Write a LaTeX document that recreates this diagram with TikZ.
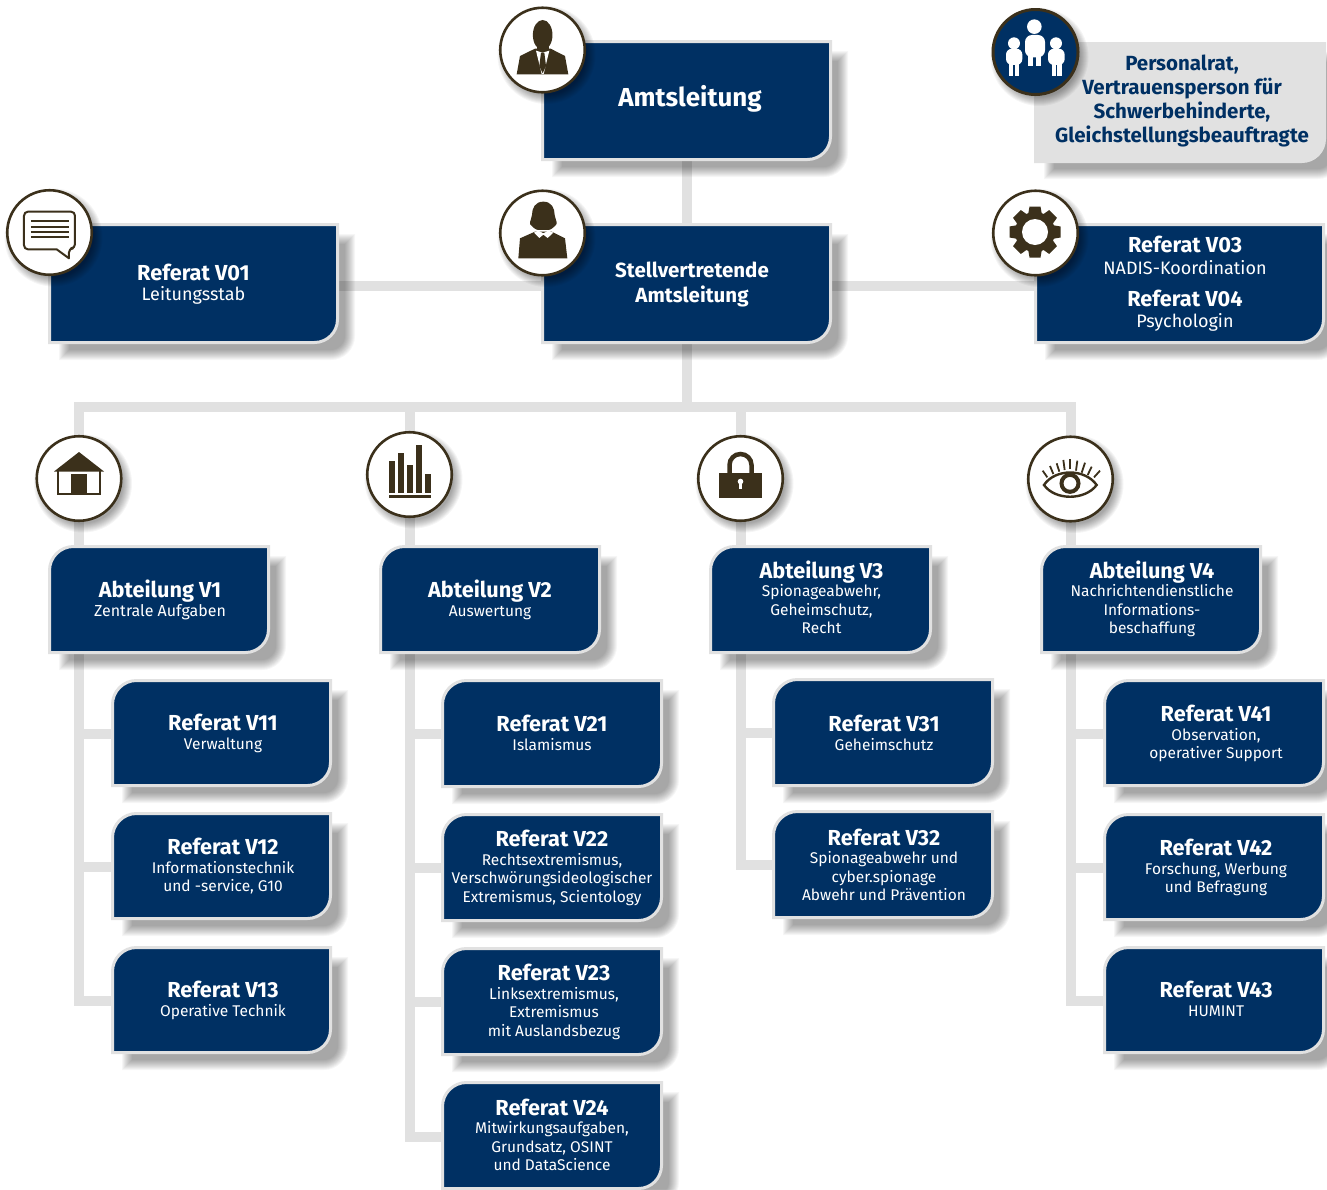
\documentclass[tikz,border=0pt]{standalone}
\usepackage{fontspec}
\setmainfont{Fira Sans}
\usetikzlibrary{calc}
\pgfdeclarelayer{lines}
\pgfsetlayers{lines,main}
\definecolor{navy}{HTML}{003063}
\definecolor{rulegray}{HTML}{E1E1E1}
\definecolor{umber}{HTML}{3B301B}
\newcommand\hd[1]{{\fontsize{21.7}{20}\selectfont\bfseries #1}}
\newcommand\hdb[1]{{\fontsize{20.5}{20}\selectfont\bfseries #1}}
\newcommand\lgsub[1]{{\fontsize{18}{18.5}\selectfont #1}}
\newcommand\shapepath[6]{(#1,{#2+#5}) .. controls (#1,{#2+0.45*#5}) and ({#1+0.45*#5},#2) .. ({#1+#5},#2) -- (#3,#2) -- (#3,{#4-#6}) .. controls (#3,{#4-0.45*#6}) and ({#3-0.45*#6},#4) .. ({#3-#6},#4) -- (#1,#4) -- cycle}
% shadow of a box: nested translucent fills
\newcommand\softshadow[6]{%
  \foreach \k in {0,1,...,10}{%
    \fill[black,opacity=0.036] \shapepath{#1+10+\k}{#2+10+\k}{#3+16-\k}{#4+16-\k}{max(#5-\k,0)}{max(#6-\k,0)};%
  }}
% [#1 text dy], #2 name, #3-#6 outer box, #7 top-left radius, #8 text x, #9 text
\newcommand\orgbox[9][0]{%
  \softshadow{#3}{#4}{#5}{#6}{#7}{24}%
  \draw[rulegray,line width=3pt,fill=navy] \shapepath{#3+0.5}{#4+0.5}{#5-1.5}{#6-1.5}{#7}{23};%
  \path ({(#3+#5)/2},{(#4+#6)/2}) node[boxanchor,minimum width={(#5-#3)*1pt},minimum height={(#6-#4)*1pt}] (#2) {};%
  \node[boxtext] (#2t) at (#8,{(#4+#6)/2+#1}) {#9};%
}
% #1 name, #2 x, #3 y, #4 style
\newcommand\iconring[4]{%
  \foreach \d in {7,6,5,4,3,2,1,0,-1,-2}{%
    \fill[black,opacity=0.04] ({#2+4},{#3+5}) circle[radius={42+\d}];%
  }
  \node[#4] (#1) at (#2,#3) {};%
}
\tikzset{
  x=1pt,y=-1pt,
  connector/.style={rulegray,line width=10pt,line cap=rect,line join=miter},
  boxanchor/.style={inner sep=0pt,outer sep=0pt},
  boxtext/.style={text=white,align=center,inner sep=0pt,font=\fontsize{15.5}{18.5}\selectfont},
  iconw/.style={circle,draw=umber,line width=2.6pt,fill=white,minimum size=84.5pt,inner sep=0pt,outer sep=0pt},
  iconb/.style={circle,draw=umber,line width=3pt,fill=navy,minimum size=85pt,inner sep=0pt,outer sep=0pt},
}
\begin{document}
\begin{tikzpicture}
\useasboundingbox (0,0) rectangle (1327,1189);
\begin{pgfonlayer}{lines}
\fill[white] (0,0) rectangle (1327,1189);
\end{pgfonlayer}
% --- boxes
\orgbox{amts}{542}{41}{832}{161}{0}{690}{\raisebox{-5.5pt}[0pt][0pt]{\fontsize{26}{28}\selectfont\bfseries Amtsleitung}}
\orgbox{stv}{542}{224}{832}{344}{0}{692}{\hdb{Stellvertretende}\\[6.5pt]\hdb{Amtsleitung}}
\orgbox{vzone}{49}{224}{339}{344}{0}{193.5}{\hd{Referat V01}\\[1.5pt]\lgsub{Leitungsstab}}
\orgbox{vdrei}{1035}{224}{1325}{344}{0}{1185}{\hd{Referat V03}\\[3pt]\lgsub{NADIS-Koordination}\\[13.5pt]\hd{Referat V04}\\[3pt]\lgsub{Psychologin}}
% Personalrat
\softshadow{1034}{42}{1326}{163}{0}{24}
\fill[rulegray] \shapepath{1034}{42}{1326}{163}{0}{24};
\node[boxanchor,minimum width=292pt,minimum height=121pt] (pers) at (1180,102.5) {};
\node[boxtext,text=navy,font=\fontsize{20.5}{24}\selectfont\bfseries] (perst) at (1182,101) {Personalrat,\\Vertrauensperson für\\Schwerbehinderte,\\Gleichstellungsbeauftragte};
% Abteilungen
\orgbox{av1}{49}{546}{270}{654}{24}{160}{\hd{Abteilung V1}\\{\fontsize{16}{18}\selectfont Zentrale Aufgaben}}
\orgbox{av2}{380}{546}{601}{654}{24}{490}{\hd{Abteilung V2}\\Auswertung}
\orgbox[-2.7]{av3}{710}{546}{932}{654}{24}{821.5}{\hd{Abteilung V3}\\Spionageabwehr,\\Geheimschutz,\\Recht}
\orgbox[-1]{av4}{1041}{546}{1262}{654}{24}{1152}{\hd{Abteilung V4}\\Nachrichtendienstliche\\Informations-\\beschaffung}
% Referate
\orgbox{r11}{112}{680}{332}{787}{24}{223}{\hd{Referat V11}\\Verwaltung}
\orgbox{r12}{112}{813}{332}{920}{24}{223}{\hd{Referat V12}\\Informationstechnik\\und -service, G10}
\orgbox{r13}{112}{947}{332}{1054}{24}{223}{\hd{Referat V13}\\Operative Technik}
\orgbox[-1]{r21}{442}{680}{663}{788}{24}{552}{\hd{Referat V21}\\Islamismus}
\orgbox{r22}{442}{814}{663}{922}{24}{552}{\hd{Referat V22}\\Rechtsextremismus,\\Verschwörungsideologischer\\Extremismus, Scientology}
\orgbox{r23}{442}{948}{663}{1056}{24}{554}{\hd{Referat V23}\\Linksextremismus,\\Extremismus\\mit Auslandsbezug}
\orgbox[-1]{r24}{442}{1082}{663}{1190}{24}{552}{\hd{Referat V24}\\Mitwirkungsaufgaben,\\Grundsatz, OSINT\\und DataScience}
\orgbox{r31}{773}{679}{994}{787}{24}{884}{\hd{Referat V31}\\Geheimschutz}
\orgbox{r32}{773}{811}{994}{919}{24}{884}{\hd{Referat V32}\\Spionageabwehr und\\cyber.spionage\\Abwehr und Prävention}
\orgbox{r41}{1104}{680}{1325}{787}{24}{1216}{\hd{Referat V41}\\Observation,\\operativer Support}
\orgbox{r42}{1104}{814}{1325}{921}{24}{1216}{\hd{Referat V42}\\Forschung, Werbung\\und Befragung}
\orgbox[-1.5]{r43}{1104}{947}{1325}{1054}{24}{1216}{\hd{Referat V43}\\HUMINT}
% --- connectors, underneath everything
\coordinate (bus) at (687,407);
\coordinate (t1) at (78.5,407);
\coordinate (t2) at (409.5,407);
\coordinate (t3) at (740.5,407);
\coordinate (t4) at (1071,407);
\begin{pgfonlayer}{lines}
  \draw[connector] (amts.south) -- (stv.north);
  \draw[connector] (stv.south) -- (bus);
  \draw[connector] ([yshift=-2pt]vzone.east) -- ([yshift=-2pt]stv.west);
  \draw[connector] ([yshift=-2pt]stv.east) -- ([yshift=-2pt]vdrei.west);
  \draw[connector] (t1) -- (t4);
  \draw[connector] (t1) |- (r13.west);
  \draw[connector] (t1 |- r11.west) -- (r11.west);
  \draw[connector] (t1 |- r12.west) -- (r12.west);
  \draw[connector] (t2) |- ([yshift=-1pt]r24.west);
  \draw[connector] (t2 |- r21.west) -- (r21.west);
  \draw[connector] (t2 |- r22.west) -- (r22.west);
  \draw[connector] (t2 |- r23.west) -- (r23.west);
  \draw[connector] (t3) |- (r32.west);
  \draw[connector] (t3 |- r31.west) -- (r31.west);
  \draw[connector] (t4) |- (r43.west);
  \draw[connector] (t4 |- r41.west) -- (r41.west);
  \draw[connector] (t4 |- r42.west) -- (r42.west);
\end{pgfonlayer}
% --- icon discs
\iconring{iman}{542.5}{50}{iconw}
\iconring{iwoman}{542.5}{233}{iconw}
\iconring{ichat}{49.5}{232.5}{iconw}
\iconring{igear}{1035.5}{233}{iconw}
\iconring{igroup}{1035.5}{52}{iconb}
\iconring{ihouse}{79}{478.5}{iconw}
\iconring{ibars}{409.5}{474.5}{iconw}
\iconring{ilock}{740.5}{478.5}{iconw}
\iconring{ieye}{1070.5}{479}{iconw}
% man
\begin{scope}[shift={(480,0)},x=0.3333pt,y=-0.3333pt]
  \fill[umber] (110,223) -- (120,168) -- (165,146) -- (212,146) -- (255,168) -- (265,223) -- cycle;
  \fill[umber] (188,105) ellipse[x radius=9.8pt,y radius=15pt];
  \fill[umber] (170,120) rectangle (206,155);
  \fill[white] (168,152) -- (188,158) -- (208,152) -- (191,222) -- (185,222) -- cycle;
  \fill[umber] (183,158) -- (193,158) -- (198,198) -- (188,220) -- (178,198) -- cycle;
\end{scope}
% woman
\begin{scope}[shift={(480,0)},x=0.3333pt,y=-0.3333pt]
  \fill[umber] (115,775) -- (120,715) -- (165,695) -- (215,695) -- (255,715) -- (262,775) -- cycle;
  \fill[umber] (190,605) .. controls (215,605) and (224,625) .. (224,645) .. controls (224,655) and (232,665) .. (230,672) .. controls (222,682) and (212,690) .. (205,690) -- (175,690) .. controls (168,690) and (158,682) .. (150,672) .. controls (148,665) and (156,655) .. (156,645) .. controls (156,625) and (165,605) .. (190,605) -- cycle;
  \fill[white] (162,698) -- (178,714) -- (190,704) -- (203,714) -- (220,698) -- (205,692) -- (190,700) -- (175,692) -- cycle;
\end{scope}
% chat bubble
\begin{scope}[shift={(0,180)},x=0.3333pt,y=-0.3333pt]
  \draw[umber,line width=2pt,line join=round,fill=white,rounded corners=4pt] (72,95) -- (225,95) -- (225,205) -- (207,205) [sharp corners] -- (207,235) -- (170,208) [rounded corners=4pt] -- (72,208) -- cycle;
  \foreach \yy in {122,140,156,172}{\draw[umber,line width=1.8pt] (93,\yy) -- (208,\yy);}
\end{scope}
% gear
\begin{scope}[shift={(1035,232)}]
  \fill[umber] (0,0) circle[radius=20];
  \foreach \a in {0,45,...,315}{\fill[umber,rotate=\a] (-7.5,-14) -- (-5.5,-25.5) -- (5.5,-25.5) -- (7.5,-14) -- cycle;}
  \fill[white] (0,0) circle[radius=13];
\end{scope}
% group
\begin{scope}[shift={(980,0)},x=0.3333pt,y=-0.3333pt]
  \fill[white] (163,80) circle[radius=7.3pt];
  \fill[white,rounded corners=7pt] (135,105) rectangle (195,172);
  \fill[white] (145,150) rectangle (160,197);
  \fill[white] (168,150) rectangle (182,197);
  \fill[white] (102,130) circle[radius=6pt];
  \fill[white,rounded corners=6pt] (78,146) rectangle (127,195);
  \fill[white] (88,175) rectangle (100,228);
  \fill[white] (105,175) rectangle (118,228);
  \fill[white] (228,130) circle[radius=6pt];
  \fill[white,rounded corners=6pt] (204,146) rectangle (254,195);
  \fill[white] (215,175) rectangle (227,228);
  \fill[white] (232,175) rectangle (245,228);
\end{scope}
% house
\fill[umber] (79,452) -- (104,471.5) -- (54,471.5) -- cycle;
\draw[umber,line width=2pt] (57.5,470) -- (57.5,493.5) -- (100,493.5) -- (100,470);
\fill[umber] (71,474) rectangle (87,494);
% bars
\foreach \bx/\by in {389/461,398/453,407/465,416/445,425/474}{\fill[umber] (\bx,\by) rectangle ({\bx+6},493);}
\fill[umber] (389,495) rectangle (431,498);
% lock
\fill[umber] (719,473) rectangle (762,498);
\draw[umber,line width=4.5pt] (729.5,474) -- (729.5,465) arc[start angle=180,end angle=360,radius=11] -- (751.5,474);
\fill[white] (740.5,481.5) circle[radius=2.8];
\fill[white] (739,482) rectangle (742,489);
% eye
\begin{scope}[shift={(1020,440)},x=0.3333pt,y=-0.3333pt]
  \draw[umber,line width=2.4pt,line join=miter] (72,135) .. controls (105,85) and (195,85) .. (230,135) .. controls (195,182) and (105,182) .. cycle;
  \draw[umber,line width=4pt] (150,130) circle[radius=8.5pt];
  \foreach \ax/\ay/\bx/\by in {68/92/82/112,90/78/100/102,110/70/118/95,130/60/134/90,150/58/150/88,172/62/168/92,195/68/185/98,215/80/203/105,240/92/222/112}
    {\draw[umber,line width=1.8pt] (\ax,\ay) -- (\bx,\by);}
\end{scope}
\end{tikzpicture}
\end{document}
